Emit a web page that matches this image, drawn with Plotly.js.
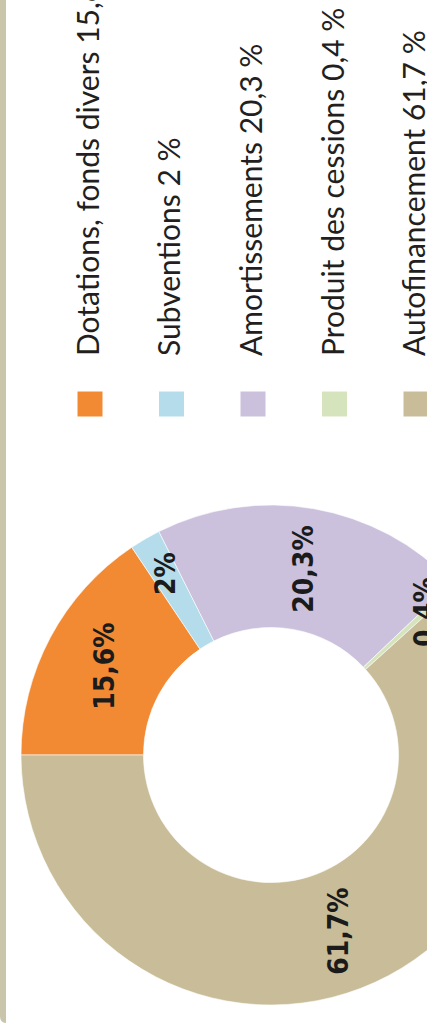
<!DOCTYPE html>
<html>
<head>
<meta charset="utf-8">
<script src="https://cdn.plot.ly/plotly-3.0.1.min.js"></script>
<style>
  html, body { margin:0; padding:0; width:427px; height:1034px; overflow:hidden; background:#ffffff; }
  #wrap { position:absolute; left:0; top:0; width:1034px; height:560px;
          transform-origin:0 0; transform:translate(0px,1034px) rotate(-90deg); }
</style>
</head>
<body>
<div id="wrap"><div id="chart"></div></div>
<script>
// ---- data ----
const labels = ['Dotations, fonds divers', 'Subventions', 'Amortissements', 'Produit des cessions', 'Autofinancement'];
const values = [15.6, 2, 20.3, 0.4, 61.7];
const colors = ['#f28a33', '#b4dcea', '#cbc1dd', '#d6e4be', '#c8bd98'];

// ---- layout constants (unrotated frame) ----
const W = 1034, H = 560;
const cu = 279, cv = 271, R = 250;
const fmt = v => String(v).replace('.', ',');
const px = u => u / W;
const py = v => 1 - v / H;

const sliceText = values.map(v => fmt(v) + '%');
const small = values.map(v => v < 5);
const textpos = small.map(s => s ? 'none' : 'inside');

const labelFont = {family:'Liberation Sans Narrow, DejaVu Sans Condensed, sans-serif', size:28, color:'#1b1b1b', weight:700};

const trace = {
  type:'pie', labels:labels, values:values, text:sliceText, texttemplate:'%{text}',
  textposition:textpos, insidetextorientation:'horizontal', insidetextfont:labelFont,
  sort:false, direction:'clockwise', rotation:0, hole:0.51,
  marker:{colors:colors, line:{color:'#ffffff', width:0.6}},
  domain:{x:[px(cu - R), px(cu + R)], y:[py(cv + R), py(cv - R)]},
  showlegend:false, hoverinfo:'label+percent'
};

const annotations = [];
const shapes = [];
const total = values.reduce((a, b) => a + b, 0);
let cum = 0;
values.forEach((v, i) => {
  const th = 2 * Math.PI * (cum + v / 2) / total;
  cum += v;
  if (small[i]) {
    const r = 210;
    annotations.push({xref:'paper', yref:'paper', x:px(cu + r * Math.sin(th)), y:py(cv - r * Math.cos(th)),
      xanchor:'center', yanchor:'middle', showarrow:false, text:sliceText[i], font:labelFont});
  }
});

// custom legend
const legU = 630, legStep = 81.5, legV0 = 90, sq = 25;
labels.forEach((l, i) => {
  const vc = legV0 + i * legStep;
  shapes.push({type:'rect', xref:'paper', yref:'paper', x0:px(legU - sq / 2), x1:px(legU + sq / 2),
    y0:py(vc + sq / 2), y1:py(vc - sq / 2), fillcolor:colors[i], line:{width:0}});
  annotations.push({xref:'paper', yref:'paper', x:px(676), y:py(vc - 3), xanchor:'left', yanchor:'middle',
    showarrow:false, text:l + ' ' + fmt(values[i]) + ' %',
    font:{family:'Lato, sans-serif', size:30, color:'#231f20'}});
});

// frame border (rounded box edge)
shapes.push({type:'path', xref:'paper', yref:'paper',
  path:'M ' + px(1040) + ' ' + py(0) + ' L ' + px(18) + ' ' + py(0) +
       ' Q ' + px(11) + ' ' + py(0) + ' ' + px(11) + ' ' + py(6) +
       ' L ' + px(1040) + ' ' + py(6) + ' Z',
  fillcolor:'#c9c5ab', line:{width:0}});

const layout = {
  width:W, height:H, margin:{l:0, r:0, t:0, b:0},
  paper_bgcolor:'#ffffff', plot_bgcolor:'#ffffff',
  showlegend:false, annotations:annotations, shapes:shapes
};

Plotly.newPlot('chart', [trace], layout, {displayModeBar:false, staticPlot:true});
</script>
</body>
</html>
